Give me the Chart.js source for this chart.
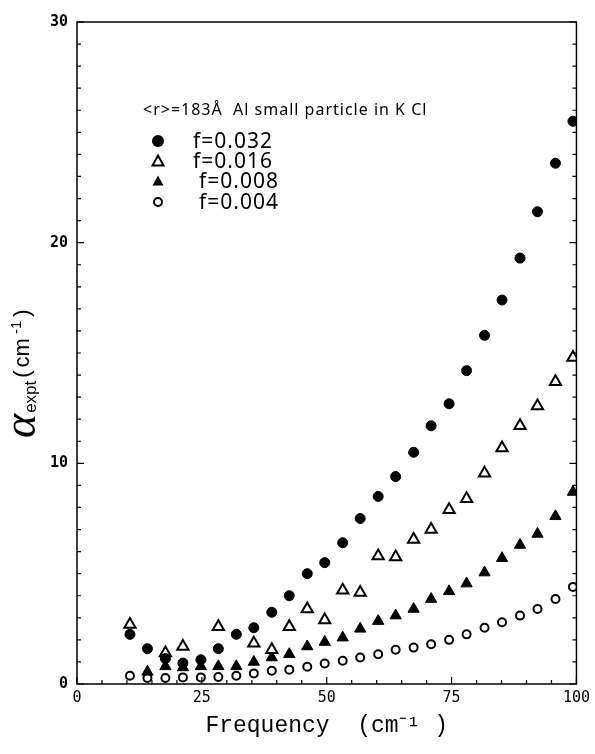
<!DOCTYPE html>
<html>
<head>
<meta charset="utf-8">
<script src="https://cdn.jsdelivr.net/npm/chart.js@4.4.1/dist/chart.umd.min.js"></script>
<style>
  html, body { margin: 0; padding: 0; background: #fff; }
  #wrap { width: 595px; height: 754px; position: relative; }
</style>
</head>
<body>
<div id="wrap"><canvas id="chartAlpha"></canvas></div>
<script>
// frequency of each measured point (cm-1)
var freq = [10.6, 14.1, 17.7, 21.2, 24.8, 28.3, 31.9, 35.4, 39.0, 42.5, 46.1, 49.6, 53.2,
            56.7, 60.3, 63.8, 67.4, 70.9, 74.5, 78.0, 81.6, 85.1, 88.7, 92.2, 95.8, 99.3];

// absorption alpha_expt (cm-1), one array per filling fraction, null = not visible
var f032 = [2.25, 1.6, 1.15, 0.95, 1.1, 1.6, 2.25, 2.55, 3.25, 4.0, 5.0, 5.5, 6.4,
            7.5, 8.5, 9.4, 10.5, 11.7, 12.7, 14.2, 15.8, 17.4, 19.3, 21.4, 23.6, 25.5];
var f016 = [2.7, null, 1.4, 1.7, null, 2.6, null, 1.85, 1.55, 2.6, 3.4, 2.9, 4.25,
            4.15, 5.8, 5.75, 6.55, 7.0, 7.9, 8.4, 9.55, 10.7, 11.7, 12.6, 13.7, 14.8];
var f008 = [null, 0.55, 0.8, 0.75, 0.8, 0.8, 0.8, 1.0, 1.2, 1.35, 1.7, 1.9, 2.1,
            2.5, 2.85, 3.1, 3.4, 3.85, 4.2, 4.55, 5.05, 5.7, 6.3, 6.8, 7.6, 8.7];
var f004 = [0.37, 0.27, 0.27, 0.3, 0.3, 0.32, 0.37, 0.48, 0.6, 0.65, 0.78, 0.93, 1.05,
            1.2, 1.35, 1.55, 1.65, 1.8, 2.0, 2.25, 2.55, 2.8, 3.1, 3.4, 3.85, 4.4];

var seriesLabels = ['f=0.032', 'f=0.016', 'f=0.008', 'f=0.004'];
var legendTitle = '<r>=183\u00C5  Al small particle in K Cl';

var xTicks = [0, 25, 50, 75, 100];
var yTicks = [0, 10, 20, 30];

function toPoints(vals) {
    var pts = [];
    for (var i = 0; i < freq.length; i++) {
        if (vals[i] !== null) pts.push({ x: freq[i], y: vals[i] });
    }
    return pts;
}

// frame, inner ticks, legend and the y title
var decorPlugin = {
    id: 'decor',
    afterDatasetsDraw: function (chart) {
        var c = chart.ctx, a = chart.chartArea;
        var xs = chart.scales.x, ys = chart.scales.y;
        c.save();
        c.strokeStyle = '#000';
        c.lineWidth = 1.5;
        c.strokeRect(a.left, a.top, a.right - a.left, a.bottom - a.top);

        c.lineWidth = 1.2;
        c.beginPath();
        for (var v = 0; v <= 30; v++) {
            var py = ys.getPixelForValue(v);
            var len = (v % 10 === 0) ? 7 : 4;
            c.moveTo(a.left, py); c.lineTo(a.left + len, py);
            c.moveTo(a.right, py); c.lineTo(a.right - len, py);
        }
        for (var u = 0; u <= 100; u += 5) {
            var px = xs.getPixelForValue(u);
            var l2 = (u % 25 === 0) ? 7 : 4;
            c.moveTo(px, a.bottom); c.lineTo(px, a.bottom - l2);
        }
        c.stroke();

        // legend
        c.fillStyle = '#000';
        c.textBaseline = 'alphabetic';
        c.font = '16px "Noto Sans"';
        c.letterSpacing = '1px';
        c.fillText(legendTitle, 143, 115);
        var rows = [148, 168, 188, 209];
        var ds = chart.data.datasets;
        c.font = '21px "Noto Sans"';
        for (var i = 0; i < rows.length; i++) {
            var mx = 158, my = rows[i] - 7;
            c.beginPath();
            if (ds[i].pointStyle === 'circle') {
                c.arc(mx, my, i === 0 ? 6 : 4, 0, Math.PI * 2);
            } else {
                c.moveTo(mx, my - 5.5); c.lineTo(mx + 5.5, my + 4.5); c.lineTo(mx - 5.5, my + 4.5); c.closePath();
            }
            if (ds[i].backgroundColor === '#000') { c.fill(); }
            else { c.lineWidth = 2; c.stroke(); }
            c.fillText(ds[i].label, i < 2 ? 193 : 199, rows[i]);
        }
        c.letterSpacing = '0px';

        // y title: alpha_expt (cm-1)
        c.translate(35, 438);
        c.rotate(-Math.PI / 2);
        c.font = 'italic 46px "Liberation Serif"';
        c.fillText('\u03B1', 0, 0);
        var pos = c.measureText('\u03B1').width + 1;
        c.font = '17px "Liberation Sans"';
        c.fillText('expt', pos, 1);
        pos += c.measureText('expt').width + 3;
        c.font = '22px "Liberation Sans"';
        c.fillText('(', pos, -6);
        pos += c.measureText('(').width + 3;
        c.fillText('cm', pos, -6);
        pos += c.measureText('cm').width + 4;
        c.font = '15px "Liberation Sans"';
        c.fillText('-1', pos, -14);
        pos += c.measureText('-1').width + 4;
        c.font = '22px "Liberation Sans"';
        c.fillText(')', pos, -6);
        c.restore();
    }
};

var ctx = document.getElementById('chartAlpha');
new Chart(ctx.getContext('2d'), {
    type: 'scatter',
    data: {
        datasets: [
            { label: seriesLabels[0], data: toPoints(f032), pointStyle: 'circle', pointRadius: 5,
              backgroundColor: '#000', borderColor: '#000', borderWidth: 1 },
            { label: seriesLabels[1], data: toPoints(f016), pointStyle: 'triangle', pointRadius: 6.5,
              backgroundColor: '#fff', borderColor: '#000', borderWidth: 2 },
            { label: seriesLabels[2], data: toPoints(f008), pointStyle: 'triangle', pointRadius: 6.5,
              backgroundColor: '#000', borderColor: '#000', borderWidth: 1 },
            { label: seriesLabels[3], data: toPoints(f004), pointStyle: 'circle', pointRadius: 4,
              backgroundColor: '#fff', borderColor: '#000', borderWidth: 2 }
        ]
    },
    options: {
        responsive: true,
        maintainAspectRatio: false,
        animation: false,
        layout: { padding: { left: 0, right: 17, top: 22, bottom: 0 } },
        plugins: {
            legend: { display: false },
            tooltip: { enabled: false }
        },
        scales: {
            x: {
                type: 'linear', min: 0, max: 100,
                afterBuildTicks: function (s) { s.ticks = xTicks.map(function (v) { return { value: v }; }); },
                afterFit: function (s) { s.height = 70; },
                grid: { display: false, drawTicks: false },
                border: { display: false },
                ticks: { color: '#000', padding: 5, maxRotation: 0,
                         font: { family: 'DejaVu Sans Mono', size: 15 } },
                title: { display: true, text: 'Frequency  (cm\u207B\u00B9 )', color: '#000',
                         padding: { top: 6, bottom: 14 }, font: { family: 'Liberation Mono', size: 23 } }
            },
            y: {
                type: 'linear', min: 0, max: 30,
                afterBuildTicks: function (s) { s.ticks = yTicks.map(function (v) { return { value: v }; }); },
                afterFit: function (s) { s.width = 77; },
                grid: { display: false, drawTicks: false },
                border: { display: false },
                ticks: { color: '#000', padding: 9,
                         font: { family: 'DejaVu Sans Mono', size: 15, weight: 'bold' } }
            }
        }
    },
    plugins: [decorPlugin]
});
</script>
</body>
</html>
